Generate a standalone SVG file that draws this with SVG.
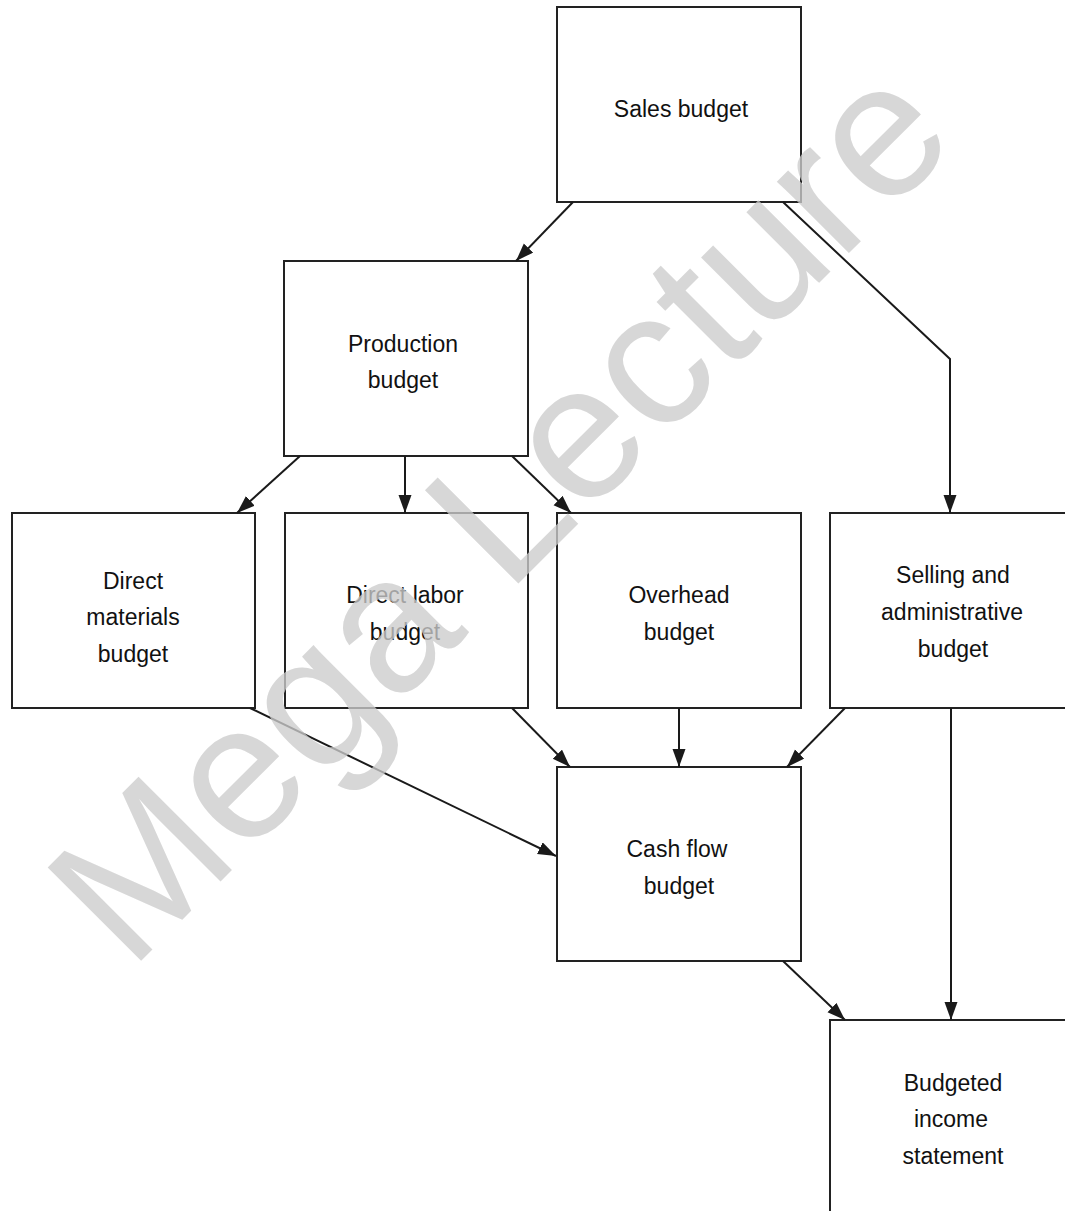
<svg xmlns="http://www.w3.org/2000/svg" width="1065" height="1211" viewBox="0 0 1065 1211">
<style>
.box{fill:none;stroke:#222222;stroke-width:2}
.lbl{font-family:"Liberation Sans",Arial,sans-serif;font-size:23px;fill:#111111;text-anchor:middle}
.con{fill:none;stroke:#1a1a1a;stroke-width:2}
.wm{font-family:"Liberation Sans",Arial,sans-serif;font-size:192px;fill:#cccccc;fill-opacity:0.78}
</style>
<defs>
<marker id="ah" markerUnits="userSpaceOnUse" markerWidth="19" markerHeight="14" refX="18" refY="6.5" orient="auto">
<path d="M0,0 L18,6.5 L0,13 z" fill="#1a1a1a"/>
</marker>
</defs>
<rect width="1065" height="1211" fill="#ffffff"/>
<g id="sales"><rect class="box" x="557" y="7" width="244" height="195"/><text class="lbl" x="681" y="117">Sales budget</text></g>
<g id="production"><rect class="box" x="284" y="261" width="244" height="195"/><text class="lbl" x="403" y="352">Production</text><text class="lbl" x="403" y="388">budget</text></g>
<g id="direct-materials"><rect class="box" x="12" y="513" width="243" height="195"/><text class="lbl" x="133" y="589">Direct</text><text class="lbl" x="133" y="625">materials</text><text class="lbl" x="133" y="662">budget</text></g>
<g id="direct-labor"><rect class="box" x="285" y="513" width="243" height="195"/><text class="lbl" x="405" y="603">Direct labor</text><text class="lbl" x="405" y="640">budget</text></g>
<g id="overhead"><rect class="box" x="557" y="513" width="244" height="195"/><text class="lbl" x="679" y="603">Overhead</text><text class="lbl" x="679" y="640">budget</text></g>
<g id="selling-admin"><rect class="box" x="830" y="513" width="244" height="195"/><text class="lbl" x="953" y="583">Selling and</text><text class="lbl" x="952" y="620">administrative</text><text class="lbl" x="953" y="657">budget</text></g>
<g id="cash-flow"><rect class="box" x="557" y="767" width="244" height="194"/><text class="lbl" x="677" y="857">Cash flow</text><text class="lbl" x="679" y="894">budget</text></g>
<g id="income-statement"><rect class="box" x="830" y="1020" width="244" height="200"/><text class="lbl" x="953" y="1091">Budgeted</text><text class="lbl" x="951" y="1127">income</text><text class="lbl" x="953" y="1164">statement</text></g>
<g id="connectors">
<path class="con" d="M573,202 L516,261" marker-end="url(#ah)"/>
<path class="con" d="M783,202 L950,359 L950,513" marker-end="url(#ah)"/>
<path class="con" d="M300,456 L237,513" marker-end="url(#ah)"/>
<path class="con" d="M405,456 L405,513" marker-end="url(#ah)"/>
<path class="con" d="M512,456 L571,513" marker-end="url(#ah)"/>
<path class="con" d="M512,708 L570,767" marker-end="url(#ah)"/>
<path class="con" d="M679,708 L679,767" marker-end="url(#ah)"/>
<path class="con" d="M845,708 L787,767" marker-end="url(#ah)"/>
<path class="con" d="M250,708 L556,856" marker-end="url(#ah)"/>
<path class="con" d="M783,961 L845,1020" marker-end="url(#ah)"/>
<path class="con" d="M951,708 L951,1020" marker-end="url(#ah)"/>
</g>
<text class="wm" x="130" y="972" transform="rotate(-45 130 972)">Mega Lecture</text>
</svg>
